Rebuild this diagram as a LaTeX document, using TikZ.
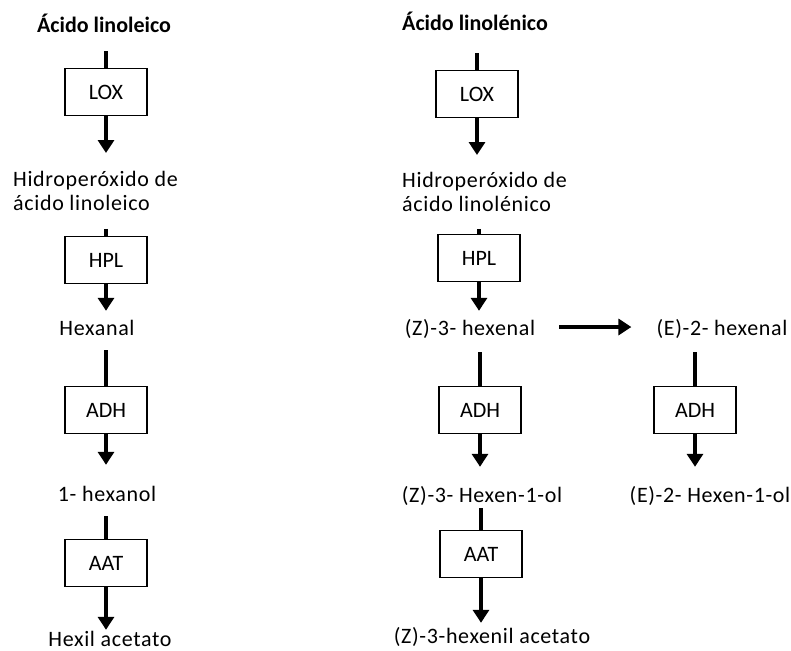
\documentclass[tikz,border=0pt]{standalone}
\usepackage{fontspec}
\setmainfont{Carlito}
\newfontfamily\etikett[LetterSpace=3]{Carlito}
\usetikzlibrary{arrows.meta}

\tikzset{
  enzym/.style={draw, line width=1.2pt, minimum width=82pt, minimum height=47pt, inner sep=0pt},
  stoff/.style={inner sep=0pt, text height=15pt, text depth=5pt, anchor=base, font=\fontsize{22}{24}\etikett},
  titel/.style={stoff, font=\fontsize{22}{24}\selectfont\rmfamily\bfseries},
  zweizeilig/.style={inner sep=0pt, align=left, anchor=north west, font=\fontsize{22}{24}\etikett},
  linie/.style={line width=4pt},
  pfeil/.style={line width=4pt, -{Triangle[width=16pt,length=13pt]}},
}

\begin{document}
\begin{tikzpicture}[x=1pt, y=-1pt, font=\fontsize{22}{24}\selectfont]
    \useasboundingbox (0,0) rectangle (791,650);

    % Linke Spalte: Linolsaeure
    \node[titel] (t1) at (104,33) {Ácido linoleico};
    \node[enzym] (lox1) at (106,92) {LOX};
    \node[zweizeilig] (hp1) at (13,171) {Hidroperóxido de\\ácido linoleico};
    \node[enzym] (hpl1) at (106,260) {HPL};
    \node[stoff] (hex1) at (97,335) {Hexanal};
    \node[enzym] (adh1) at (106,410) {ADH};
    \node[stoff] (hol1) at (107,501) {1- hexanol};
    \node[enzym] (aat1) at (106,563) {AAT};
    \node[stoff] (ac1) at (110,646) {Hexil acetato};

    % Verbindungen links
    \draw[linie, shorten <=13pt] (t1.south -| lox1.north) -- (lox1.north);
    \draw[pfeil, shorten >=18pt] (lox1.south) -- (hp1.north -| lox1.south);
    \draw[linie, shorten <=18pt] (hp1.south -| hpl1.north) -- (hpl1.north);
    \draw[pfeil, shorten >=9pt] (hpl1.south) -- (hex1.north -| hpl1.south);
    \draw[linie, shorten <=10pt] (hex1.south -| adh1.north) -- (adh1.north);
    \draw[pfeil, shorten >=21pt] (adh1.south) -- (hol1.north -| adh1.south);
    \draw[linie, shorten <=10pt] (hol1.south -| aat1.north) -- (aat1.north);
    \draw[pfeil, shorten >=1pt] (aat1.south) -- (ac1.north -| aat1.south);

    % Rechte Spalte: Linolensaeure
    \node[titel, anchor=base west] (t2) at (402,31) {Ácido linolénico};
    \node[enzym] (lox2) at (477,94) {LOX};
    \node[zweizeilig] (hp2) at (402,172) {Hidroperóxido de\\ácido linolénico};
    \node[enzym] (hpl2) at (479,258) {HPL};
    \node[stoff] (z3) at (470,335) {(Z)-3- hexenal};
    \node[stoff] (e2) at (722,335) {(E)-2- hexenal};
    \node[enzym] (adh2) at (480,410) {ADH};
    \node[enzym] (adh3) at (695,410) {ADH};
    \node[stoff] (zol) at (482,502) {(Z)-3- Hexen-1-ol};
    \node[stoff] (eol) at (710,502) {(E)-2- Hexen-1-ol};
    \node[enzym] (aat2) at (481,554) {AAT};
    \node[stoff] (zac) at (492,643) {(Z)-3-hexenil acetato};

    % Verbindungen rechts
    \draw[linie, shorten <=17pt] (t2.south -| lox2.north) -- (lox2.north);
    \draw[pfeil, shorten >=17pt] (lox2.south) -- (hp2.north -| lox2.south);
    \draw[linie, shorten <=17pt] (hp2.south -| hpl2.north) -- (hpl2.north);
    \draw[pfeil, shorten >=9pt] (hpl2.south) -- (z3.north -| hpl2.south);
    \draw[pfeil, shorten <=24pt, shorten >=25pt] ([yshift=3pt]z3.east) -- ([yshift=3pt]e2.west);
    \draw[linie, shorten <=12pt] (z3.south -| adh2.north) -- (adh2.north);
    \draw[linie, shorten <=12pt] (e2.south -| adh3.north) -- (adh3.north);
    \draw[pfeil, shorten >=20pt] (adh2.south) -- (zol.north -| adh2.south);
    \draw[pfeil, shorten >=20pt] (adh3.south) -- (eol.north -| adh3.south);
    \draw[linie, shorten <=1pt] (zol.south -| aat2.north) -- (aat2.north);
    \draw[pfeil, shorten >=5pt] (aat2.south) -- (zac.north -| aat2.south);
\end{tikzpicture}
\end{document}
